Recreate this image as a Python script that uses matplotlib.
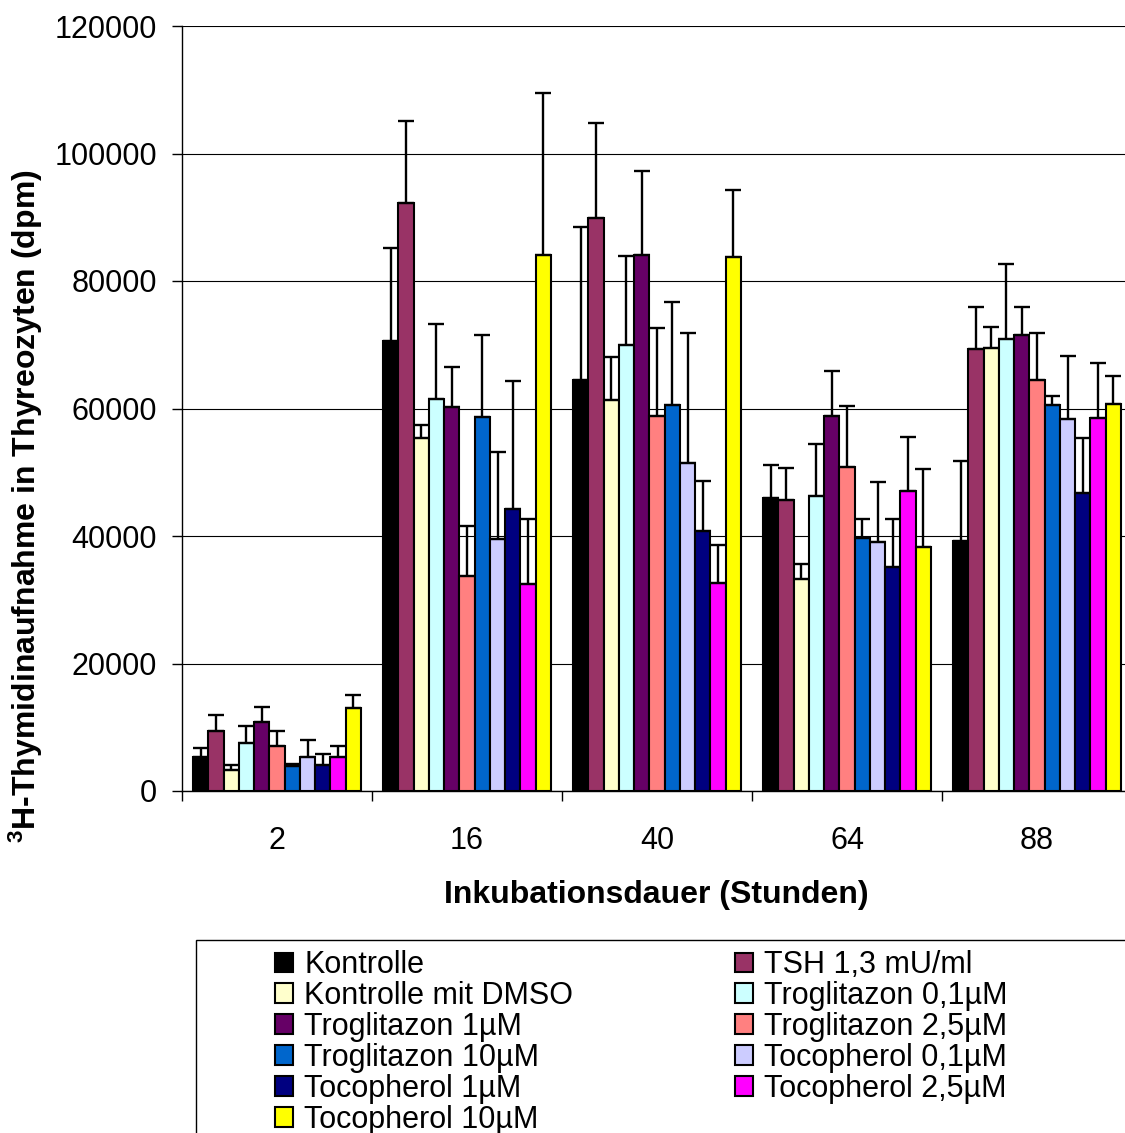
import numpy as np
import matplotlib.pyplot as plt
from matplotlib.patches import Rectangle

plt.rcParams['font.family'] = ['Liberation Sans', 'DejaVu Sans']
plt.rcParams['mathtext.fontset'] = 'custom'
plt.rcParams['mathtext.bf'] = 'Liberation Sans:bold'
plt.rcParams['mathtext.rm'] = 'Liberation Sans'

# incubation time (hours)
hours = ['2', '16', '40', '64', '88']

series = ['Kontrolle', 'TSH 1,3 mU/ml', 'Kontrolle mit DMSO', 'Troglitazon 0,1µM',
          'Troglitazon 1µM', 'Troglitazon 2,5µM', 'Troglitazon 10µM', 'Tocopherol 0,1µM',
          'Tocopherol 1µM', 'Tocopherol 2,5µM', 'Tocopherol 10µM']
colors = ['#000000', '#993366', '#FFFFCC', '#CCFFFF', '#660066', '#FF8080',
          '#0066CC', '#CCCCFF', '#000080', '#FF00FF', '#FFFF00']

# mean dpm per series, one value per incubation time
means = [
    [5300, 70600, 64400, 45900, 39200],
    [9400, 92200, 89900, 45600, 69400],
    [3300, 55300, 61300, 33200, 69500],
    [7600, 61500, 69900, 46200, 70900],
    [10800, 60300, 84100, 58800, 71600],
    [7000, 33800, 58800, 50900, 64400],
    [4000, 58700, 60600, 39700, 60600],
    [5300, 39600, 51500, 39000, 58400],
    [4100, 44300, 40800, 35100, 46700],
    [5300, 32500, 32600, 47000, 58500],
    [13000, 84100, 83800, 38300, 60700],
]
# upper standard deviation
errors = [
    [1500, 14600, 24000, 5200, 12500],
    [2600, 12900, 14900, 5000, 6500],
    [800, 2100, 6800, 2400, 3300],
    [2600, 11700, 14100, 8300, 11700],
    [2300, 6200, 13100, 7100, 4300],
    [2400, 7700, 13800, 9500, 7500],
    [300, 12800, 16100, 3000, 1300],
    [2700, 13500, 20300, 9500, 9800],
    [1700, 20000, 7900, 7600, 8600],
    [1800, 10100, 6000, 8600, 8700],
    [2100, 25400, 10500, 12200, 4400],
]

W, H = 1125, 1133
fig = plt.figure(figsize=(W / 100, H / 100), dpi=100)
ax = fig.add_axes([182 / W, 1 - 791 / H, (1132 - 182) / W, (791 - 26) / H])

x = np.arange(len(hours))
n = len(series)
width = 0.884 / n
handles = []
for i in range(n):
    pos = x + (i - (n - 1) / 2) * width
    b = ax.bar(pos, means[i], width, color=colors[i], edgecolor='black',
               linewidth=1.5, zorder=2, label=series[i])
    ax.errorbar(pos, means[i], yerr=[np.zeros(len(hours)), errors[i]], fmt='none',
                ecolor='black', elinewidth=1.7, capsize=5.5, capthick=1.7, zorder=3)
    handles.append(b)

ax.set_xlim(-0.5, 4.5)
ax.set_ylim(0, 120000)
ax.set_yticks(np.arange(0, 120001, 20000))
ax.yaxis.grid(True, color='black', linewidth=0.8, zorder=0)
ax.set_axisbelow(True)
for s in ['top', 'right']:
    ax.spines[s].set_visible(False)
ax.spines['left'].set_linewidth(1)
ax.spines['bottom'].set_linewidth(1)

ax.set_xticks(x)
ax.set_xticklabels(hours)
ax.set_xticks(np.arange(-0.5, 5, 1), minor=True)
ax.tick_params(axis='x', which='major', length=0, pad=25, labelsize=22)
ax.tick_params(axis='x', which='minor', length=7, width=1, direction='out')
ax.tick_params(axis='y', length=7, width=1, direction='out', pad=11, labelsize=22)

fig.text(656 / W, 1 - 903 / H, 'Inkubationsdauer (Stunden)', fontsize=23,
         fontweight='bold', ha='center', va='baseline')
fig.text(26 / W, 1 - 506 / H, r'$\mathbf{^{3}}$H-Thymidinaufnahme in Thyreozyten (dpm)',
         fontsize=23, fontweight='bold', rotation=90, ha='center', va='center')

# legend box (runs off the right and bottom of the image)
fig.add_artist(Rectangle((196 / W, -0.05), 1.0, 1 - 940 / H + 0.05,
                         transform=fig.transFigure, facecolor='white',
                         edgecolor='black', linewidth=1))
order = [0, 2, 4, 6, 8, 10, 1, 3, 5, 7, 9]
leg = fig.legend([handles[k] for k in order], [series[k] for k in order],
                 loc='upper left', bbox_to_anchor=(275 / W, 1 - 950 / H), ncol=2,
                 frameon=False, fontsize=22, handlelength=0.6, handleheight=0.6,
                 handletextpad=0.35, labelspacing=0.03, columnspacing=5.3,
                 borderpad=0, borderaxespad=0)

fig.savefig('out.png', dpi=100)
